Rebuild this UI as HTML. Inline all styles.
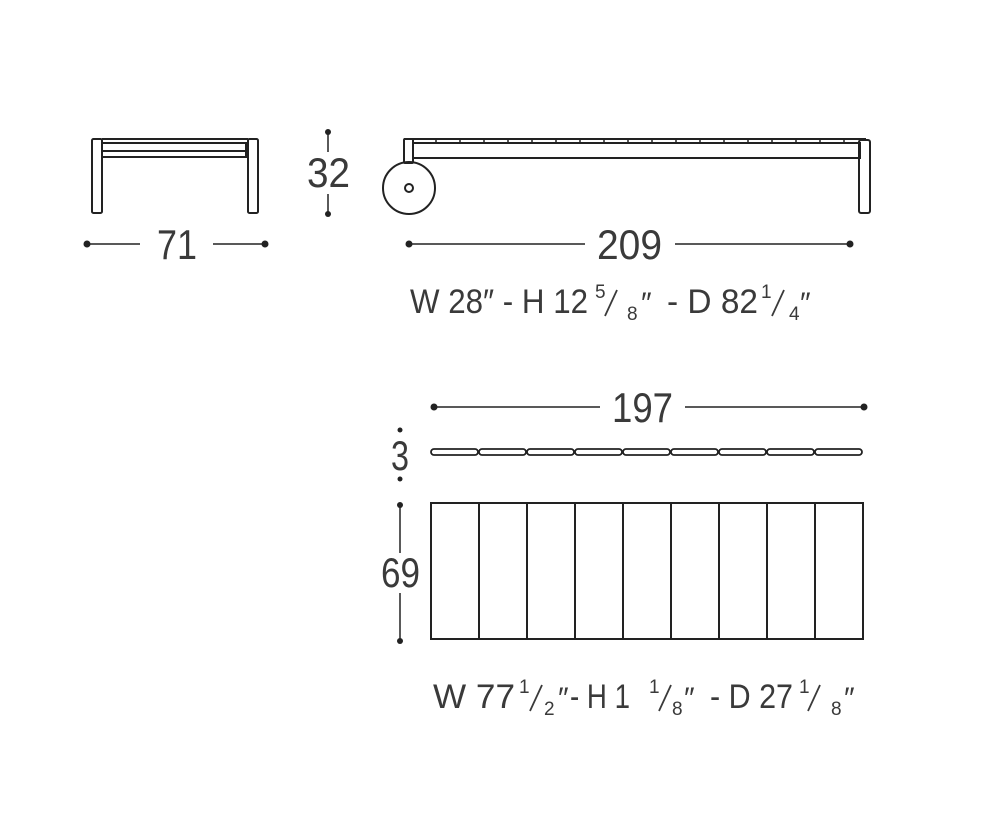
<!DOCTYPE html>
<html><head><meta charset="utf-8"><style>
html,body{margin:0;padding:0;background:#fff;}
svg{display:block;}
text{font-family:"Liberation Sans",sans-serif;fill:#3a3a3a;}
</style></head><body>
<svg width="995" height="817" viewBox="0 0 995 817" xmlns="http://www.w3.org/2000/svg">
<g fill="none" stroke="#222" stroke-width="2">
 <!-- front view -->
 <rect x="92" y="139" width="10" height="74" rx="1.5"/>
 <rect x="248" y="139" width="10" height="74" rx="1.5"/>
 <line x1="102" y1="139" x2="248" y2="139"/>
 <line x1="102" y1="143" x2="248" y2="143"/>
 <line x1="102" y1="151" x2="248" y2="151"/>
 <line x1="102" y1="157" x2="248" y2="157"/>
 <line x1="246" y1="143" x2="246" y2="157"/>
 <!-- side view -->
 <rect x="404" y="139" width="9" height="24" rx="1"/>
 <line x1="404" y1="139" x2="866" y2="139"/>
 <rect x="413" y="143" width="447" height="15"/>
 <rect x="859" y="140" width="11" height="73" rx="2"/>
 <circle cx="409" cy="188" r="26"/>
 <circle cx="409" cy="188" r="4"/>
</g>
<g stroke="#222" stroke-width="1.5">
 <line x1="436" y1="139" x2="436" y2="143"/><line x1="460" y1="139" x2="460" y2="143"/>
 <line x1="484" y1="139" x2="484" y2="143"/><line x1="508" y1="139" x2="508" y2="143"/>
 <line x1="532" y1="139" x2="532" y2="143"/><line x1="556" y1="139" x2="556" y2="143"/>
 <line x1="580" y1="139" x2="580" y2="143"/><line x1="604" y1="139" x2="604" y2="143"/>
 <line x1="628" y1="139" x2="628" y2="143"/><line x1="652" y1="139" x2="652" y2="143"/>
 <line x1="676" y1="139" x2="676" y2="143"/><line x1="700" y1="139" x2="700" y2="143"/>
 <line x1="724" y1="139" x2="724" y2="143"/><line x1="748" y1="139" x2="748" y2="143"/>
 <line x1="772" y1="139" x2="772" y2="143"/><line x1="796" y1="139" x2="796" y2="143"/>
 <line x1="820" y1="139" x2="820" y2="143"/><line x1="844" y1="139" x2="844" y2="143"/>
</g>
<g fill="none" stroke="#222" stroke-width="2">
 <!-- slats -->
 <g stroke-width="1.8">
  <rect x="431" y="449" width="47" height="6" rx="3"/>
  <rect x="479" y="449" width="47" height="6" rx="3"/>
  <rect x="527" y="449" width="47" height="6" rx="3"/>
  <rect x="575" y="449" width="47" height="6" rx="3"/>
  <rect x="623" y="449" width="47" height="6" rx="3"/>
  <rect x="671" y="449" width="47" height="6" rx="3"/>
  <rect x="719" y="449" width="47" height="6" rx="3"/>
  <rect x="767" y="449" width="47" height="6" rx="3"/>
  <rect x="815" y="449" width="47" height="6" rx="3"/>
 </g>
 <!-- top plan -->
 <rect x="431" y="503" width="432" height="136"/>
 <line x1="479" y1="503" x2="479" y2="639"/>
 <line x1="527" y1="503" x2="527" y2="639"/>
 <line x1="575" y1="503" x2="575" y2="639"/>
 <line x1="623" y1="503" x2="623" y2="639"/>
 <line x1="671" y1="503" x2="671" y2="639"/>
 <line x1="719" y1="503" x2="719" y2="639"/>
 <line x1="767" y1="503" x2="767" y2="639"/>
 <line x1="815" y1="503" x2="815" y2="639"/>
</g>
<!-- dimension lines -->
<g stroke="#222" stroke-width="1.5">
 <line x1="87" y1="244" x2="140" y2="244"/><line x1="213" y1="244" x2="265" y2="244"/>
 <line x1="328" y1="132" x2="328" y2="152"/><line x1="328" y1="194" x2="328" y2="214"/>
 <line x1="409" y1="244" x2="585" y2="244"/><line x1="675" y1="244" x2="850" y2="244"/>
 <line x1="434" y1="407" x2="600" y2="407"/><line x1="685" y1="407" x2="864" y2="407"/>
 <line x1="400" y1="505" x2="400" y2="553"/><line x1="400" y1="593" x2="400" y2="641"/>
</g>
<g fill="#222">
 <circle cx="87" cy="244" r="3.5"/><circle cx="265" cy="244" r="3.5"/>
 <circle cx="328" cy="132" r="3"/><circle cx="328" cy="214" r="3"/>
 <circle cx="409" cy="244" r="3.5"/><circle cx="850" cy="244" r="3.5"/>
 <circle cx="434" cy="407" r="3.5"/><circle cx="864" cy="407" r="3.5"/>
 <circle cx="400" cy="430" r="2.5"/><circle cx="400" cy="479" r="2.5"/>
 <circle cx="400" cy="505" r="3"/><circle cx="400" cy="641" r="3"/>
</g>
<!-- numbers -->
<g font-size="42">
 <text x="157" y="259" textLength="40" lengthAdjust="spacingAndGlyphs">71</text>
 <text x="307" y="187" textLength="43" lengthAdjust="spacingAndGlyphs">32</text>
 <text x="597" y="259" textLength="65" lengthAdjust="spacingAndGlyphs">209</text>
 <text x="612" y="422" textLength="61" lengthAdjust="spacingAndGlyphs">197</text>
 <text x="381" y="587" textLength="39" lengthAdjust="spacingAndGlyphs">69</text>
 <text x="391" y="470" textLength="18" lengthAdjust="spacingAndGlyphs">3</text>
</g>
<g font-size="34">
 <text x="410" y="313" textLength="178" lengthAdjust="spacingAndGlyphs">W 28″ - H 12</text>
 <text x="667" y="313" textLength="91" lengthAdjust="spacingAndGlyphs">- D 82</text>
 <text x="641" y="313" font-size="30">″</text>
 <text x="800" y="313" font-size="30">″</text>
 <text x="433" y="708" textLength="82" lengthAdjust="spacingAndGlyphs">W 77</text>
 <text x="570" y="708" textLength="60" lengthAdjust="spacingAndGlyphs">- H 1</text>
 <text x="710" y="708" textLength="83" lengthAdjust="spacingAndGlyphs">- D 27</text>
 <text x="558" y="708" font-size="30">″</text>
 <text x="684" y="708" font-size="30">″</text>
 <text x="844" y="708" font-size="30">″</text>
</g>
<g font-size="19">
 <text x="595" y="298">5</text><text x="627" y="320">8</text>
 <text x="761" y="298">1</text><text x="789" y="320">4</text>
 <text x="519" y="693">1</text><text x="544" y="715">2</text>
 <text x="649" y="693">1</text><text x="672" y="715">8</text>
 <text x="799" y="693">1</text><text x="831" y="715">8</text>
</g>
<g stroke="#3a3a3a" stroke-width="1.8">
 <line x1="605" y1="316" x2="617" y2="290"/>
 <line x1="772" y1="316" x2="784" y2="290"/>
 <line x1="530" y1="711" x2="542" y2="685"/>
 <line x1="659" y1="711" x2="671" y2="685"/>
 <line x1="808" y1="711" x2="820" y2="685"/>
</g>
</svg>
</body></html>
